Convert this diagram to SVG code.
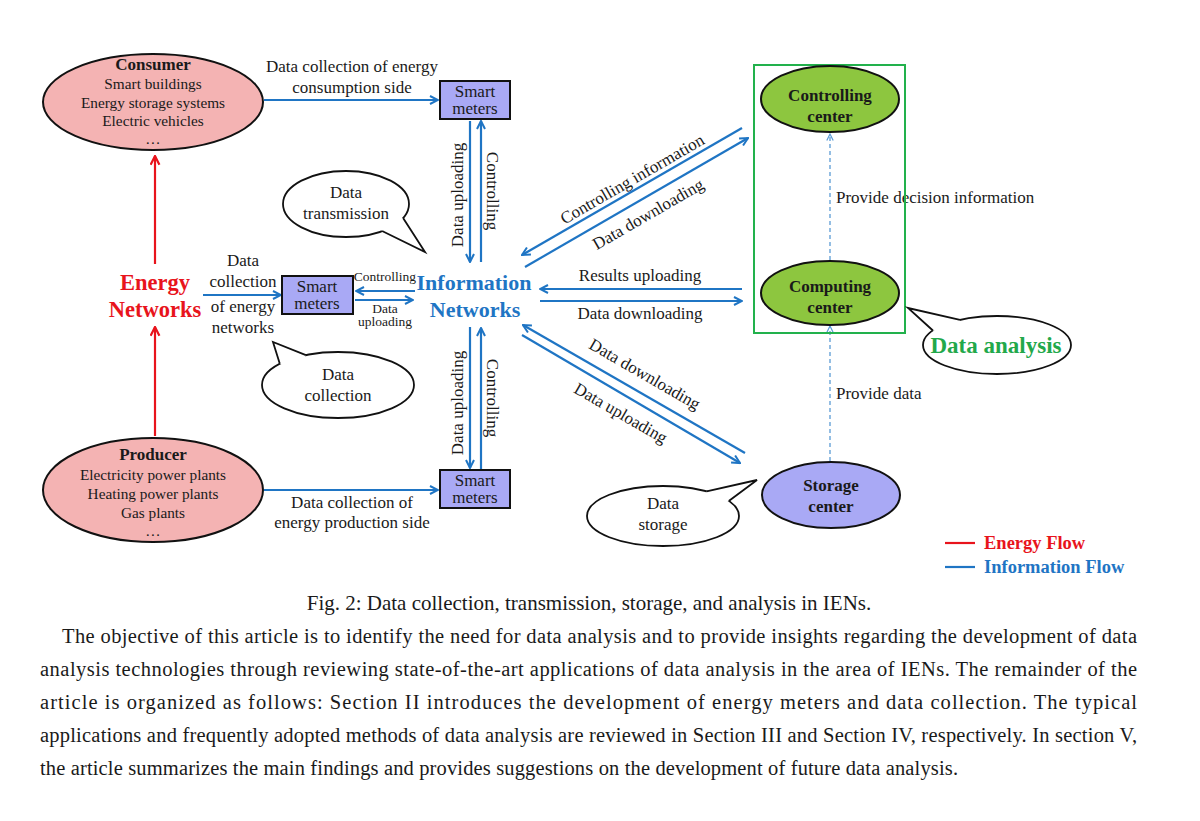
<svg xmlns="http://www.w3.org/2000/svg" width="1200" height="821" viewBox="0 0 1200 821">
<style>
text{font-family:"Liberation Serif","Times New Roman",serif;fill:#1a1a1a}
.t{font-size:17px;text-anchor:middle}
.s{font-size:15.3px;text-anchor:middle}
.b{font-weight:bold}
.h{font-size:17px;font-weight:bold;text-anchor:middle}
.blue{stroke:#1f75c4;stroke-width:2.2;fill:none}
.red{stroke:#e8141c;stroke-width:2.2;fill:none}
.dash{stroke:#5b9bd5;stroke-width:1.3;stroke-dasharray:4 3;fill:none}
.pink{fill:#f4b3b3;stroke:#111;stroke-width:2}
.lav{fill:#a9a9f5;stroke:#111;stroke-width:2}
.grn{fill:#8dc63f;stroke:#111;stroke-width:2}
.bub{fill:#fff;stroke:#111;stroke-width:1.8}
.para{font-size:20.5px}
</style>
<defs>
<marker id="ab" viewBox="0 0 10 10" refX="9" refY="5" markerWidth="10" markerHeight="10" markerUnits="userSpaceOnUse" orient="auto"><path d="M1,1 L9,5 L1,9" fill="none" stroke="#1f75c4" stroke-width="2"/></marker>
<marker id="ar" viewBox="0 0 10 10" refX="9" refY="5" markerWidth="11" markerHeight="11" markerUnits="userSpaceOnUse" orient="auto"><path d="M1,1 L9,5 L1,9" fill="none" stroke="#e8141c" stroke-width="2"/></marker>
<marker id="ad" viewBox="0 0 10 10" refX="9" refY="5" markerWidth="8" markerHeight="8" markerUnits="userSpaceOnUse" orient="auto"><path d="M1,1 L9,5 L1,9" fill="none" stroke="#5b9bd5" stroke-width="1.5"/></marker>
</defs>
<rect width="1200" height="821" fill="#fff"/>

<g id="connectors">
<line class="red" x1="155" y1="264" x2="155" y2="156" marker-end="url(#ar)"/>
<line class="red" x1="155" y1="436" x2="155" y2="327" marker-end="url(#ar)"/>
<line class="blue" x1="264" y1="100" x2="438" y2="100" marker-end="url(#ab)"/>
<line class="blue" x1="470" y1="121" x2="470" y2="262" marker-end="url(#ab)"/>
<line class="blue" x1="481" y1="262" x2="481" y2="121" marker-end="url(#ab)"/>
<line class="blue" x1="470" y1="327" x2="470" y2="468" marker-end="url(#ab)"/>
<line class="blue" x1="481" y1="469" x2="481" y2="328" marker-end="url(#ab)"/>
<line class="blue" x1="264" y1="490" x2="438" y2="490" marker-end="url(#ab)"/>
<line class="blue" x1="203" y1="295" x2="281" y2="295" marker-end="url(#ab)"/>
<line class="blue" x1="415" y1="291" x2="356" y2="291" marker-end="url(#ab)"/>
<line class="blue" x1="355" y1="300" x2="413" y2="300" marker-end="url(#ab)"/>
<line class="blue" x1="742" y1="128" x2="522" y2="255" marker-end="url(#ab)"/>
<line class="blue" x1="525" y1="267" x2="748" y2="138" marker-end="url(#ab)"/>
<line class="blue" x1="742" y1="289" x2="540" y2="289" marker-end="url(#ab)"/>
<line class="blue" x1="540" y1="301" x2="742" y2="301" marker-end="url(#ab)"/>
<line class="blue" x1="745" y1="453" x2="523" y2="325" marker-end="url(#ab)"/>
<line class="blue" x1="522" y1="335" x2="740" y2="463" marker-end="url(#ab)"/>
<line class="dash" x1="830" y1="260" x2="830" y2="134" marker-end="url(#ad)"/>
<line class="dash" x1="830" y1="461" x2="830" y2="326" marker-end="url(#ad)"/>
</g>

<g id="connector-labels">
<text class="t" x="352" y="72">Data collection of energy</text>
<text class="t" x="352" y="93">consumption side</text>
<text class="t" x="352" y="508">Data collection of</text>
<text class="t" x="352" y="528">energy production side</text>
<text class="t" transform="translate(463,195) rotate(-90)">Data uploading</text>
<text class="t" transform="translate(487,191) rotate(90)">Controlling</text>
<text class="t" transform="translate(463,403) rotate(-90)">Data uploading</text>
<text class="t" transform="translate(487,398) rotate(90)">Controlling</text>
<text class="t" x="243" y="266">Data</text>
<text class="t" x="243" y="287">collection</text>
<text class="t" x="243" y="312">of energy</text>
<text class="t" x="243" y="333">networks</text>
<text class="t" x="385" y="281" style="font-size:13.5px">Controlling</text>
<text class="t" x="385" y="313" style="font-size:13.5px">Data</text>
<text class="t" x="385" y="326" style="font-size:13.5px">uploading</text>
<text class="t" transform="translate(635,184) rotate(-30)">Controlling information</text>
<text class="t" transform="translate(651,219) rotate(-30)">Data downloading</text>
<text class="t" x="640" y="281">Results uploading</text>
<text class="t" x="640" y="319">Data downloading</text>
<text class="t" transform="translate(642,379) rotate(30)">Data downloading</text>
<text class="t" transform="translate(618,418) rotate(30)">Data uploading</text>
<text x="836" y="203" style="font-size:17px">Provide decision information</text>
<text x="836" y="399" style="font-size:17px">Provide data</text>
</g>

<g id="consumer">
<ellipse class="pink" cx="153" cy="102" rx="110" ry="48"/>
<text class="h" x="153" y="70">Consumer</text>
<text class="s" x="153" y="89">Smart buildings</text>
<text class="s" x="153" y="108">Energy storage systems</text>
<text class="s" x="153" y="126">Electric vehicles</text>
<text class="s" x="153" y="144">…</text>
</g>

<g id="producer">
<ellipse class="pink" cx="153" cy="490" rx="110" ry="52"/>
<text class="h" x="153" y="460">Producer</text>
<text class="s" x="153" y="480">Electricity power plants</text>
<text class="s" x="153" y="499">Heating power plants</text>
<text class="s" x="153" y="518">Gas plants</text>
<text class="s" x="153" y="536">…</text>
</g>

<g id="energy-networks">
<text x="155" y="290" style="font-size:22.5px;font-weight:bold;fill:#e8141c;text-anchor:middle">Energy</text>
<text x="155" y="317" style="font-size:22.5px;font-weight:bold;fill:#e8141c;text-anchor:middle">Networks</text>
</g>

<g id="information-networks">
<text x="474" y="290" style="font-size:22px;font-weight:bold;fill:#1f75c4;text-anchor:middle">Information</text>
<text x="475" y="317" style="font-size:22px;font-weight:bold;fill:#1f75c4;text-anchor:middle">Networks</text>
</g>

<g id="smart-meters-top">
<rect class="lav" x="440" y="81" width="70" height="38"/>
<text class="t" x="475" y="97">Smart</text>
<text class="t" x="475" y="114">meters</text>
</g>

<g id="smart-meters-mid">
<rect class="lav" x="282" y="276" width="71" height="38"/>
<text class="t" x="317" y="292">Smart</text>
<text class="t" x="317" y="309">meters</text>
</g>

<g id="smart-meters-bottom">
<rect class="lav" x="440" y="470" width="70" height="38"/>
<text class="t" x="475" y="486">Smart</text>
<text class="t" x="475" y="503">meters</text>
</g>

<g id="data-analysis-box">
<rect x="754" y="65" width="151" height="268" fill="none" stroke="#22b14c" stroke-width="2"/>
</g>

<g id="controlling-center">
<ellipse class="grn" cx="830" cy="99" rx="69" ry="33"/>
<text class="t b" x="830" y="101">Controlling</text>
<text class="t b" x="830" y="122">center</text>
</g>

<g id="computing-center">
<ellipse class="grn" cx="830" cy="293" rx="69" ry="32"/>
<text class="t b" x="830" y="292">Computing</text>
<text class="t b" x="830" y="313">center</text>
</g>

<g id="storage-center">
<ellipse class="lav" cx="831" cy="495" rx="69" ry="33"/>
<text class="t b" x="831" y="491">Storage</text>
<text class="t b" x="831" y="512">center</text>
</g>

<g id="bubble-transmission">
<ellipse class="bub" cx="346" cy="204" rx="63" ry="33"/>
<polygon points="403,218 425,252 382,231 370,215" fill="#fff"/>
<polyline points="403.1,217.9 425,252 382.1,231" fill="none" stroke="#111" stroke-width="1.8"/>
<text class="t" x="346" y="198">Data</text>
<text class="t" x="346" y="219">transmission</text>
</g>

<g id="bubble-collection">
<ellipse class="bub" cx="338" cy="385" rx="76" ry="33"/>
<polygon points="279.8,363.8 273,342 305.9,355.1 300,370" fill="#fff"/>
<polyline points="279.8,363.8 273,342 305.9,355.1" fill="none" stroke="#111" stroke-width="1.8"/>
<text class="t" x="338" y="380">Data</text>
<text class="t" x="338" y="401">collection</text>
</g>

<g id="bubble-storage">
<ellipse class="bub" cx="663" cy="516" rx="76" ry="30"/>
<polygon points="706.6,491.4 757,480 728.8,501 700,510" fill="#fff"/>
<polyline points="706.6,491.4 757,480 728.8,501" fill="none" stroke="#111" stroke-width="1.8"/>
<text class="t" x="663" y="509">Data</text>
<text class="t" x="663" y="530">storage</text>
</g>

<g id="bubble-analysis">
<ellipse class="bub" cx="997" cy="345" rx="74" ry="29"/>
<polygon points="932.9,330.5 908,308 960,319.9 960,335" fill="#fff"/>
<polyline points="932.9,330.5 908,308 960,319.9" fill="none" stroke="#111" stroke-width="1.8"/>
<text x="996" y="353" style="font-size:23px;font-weight:bold;fill:#22a84a;text-anchor:middle">Data analysis</text>
</g>

<g id="legend">
<line x1="945" y1="543" x2="975" y2="543" stroke="#e8141c" stroke-width="2.2"/>
<text x="984" y="549" style="font-size:18.5px;font-weight:bold;fill:#e8141c">Energy Flow</text>
<line x1="945" y1="567" x2="975" y2="567" stroke="#1f75c4" stroke-width="2.2"/>
<text x="984" y="573" style="font-size:18.5px;font-weight:bold;fill:#1f75c4">Information Flow</text>
</g>

<g id="caption">
<text x="589" y="610" style="font-size:21px;text-anchor:middle">Fig. 2: Data collection, transmission, storage, and analysis in IENs.</text>
<text class="para" x="62" y="643" textLength="1075" lengthAdjust="spacing">The objective of this article is to identify the need for data analysis and to provide insights regarding the development of data</text>
<text class="para" x="40" y="676" textLength="1097" lengthAdjust="spacing">analysis technologies through reviewing state-of-the-art applications of data analysis in the area of IENs. The remainder of the</text>
<text class="para" x="40" y="709" textLength="1097" lengthAdjust="spacing">article is organized as follows: Section II introduces the development of energy meters and data collection. The typical</text>
<text class="para" x="40" y="742" textLength="1097" lengthAdjust="spacing">applications and frequently adopted methods of data analysis are reviewed in Section III and Section IV, respectively. In section V,</text>
<text class="para" x="40" y="775" textLength="918" lengthAdjust="spacing">the article summarizes the main findings and provides suggestions on the development of future data analysis.</text>
</g>
</svg>
